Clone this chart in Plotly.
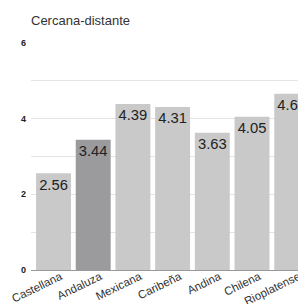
import plotly.graph_objects as go

categories = ["Castellana", "Andaluza", "Mexicana", "Caribeña", "Andina", "Chilena", "Rioplatense"]
values = [2.56, 3.44, 4.39, 4.31, 3.63, 4.05, 4.66]
bar_colors = ["#c9c9c9", "#9b9b9d", "#c9c9c9", "#c9c9c9", "#c9c9c9", "#c9c9c9", "#c9c9c9"]
y_tickvals = [0, 1, 2, 3, 4, 5, 6]
y_ticktext = ["<b>0</b>", "", "<b>2</b>", "", "<b>4</b>", "", "<b>6</b>"]

W, H = 298, 296  # page body has an 8px default margin

fig = go.Figure(go.Bar(
    x=categories, y=values,
    marker=dict(color=bar_colors, line=dict(width=0)),
    text=[f"{v:.2f}" for v in values],
    textposition="inside", insidetextanchor="end",
    textfont=dict(family="Liberation Sans, Arial", size=17.5, color="#222222"),
    textangle=0, cliponaxis=False,
))

fig.update_layout(
    width=W, height=H,
    margin=dict(l=23, r=0, t=35, b=34),
    paper_bgcolor="white", plot_bgcolor="white",
    bargap=0.12,
    showlegend=False,
    title=dict(text="Cercana-distante", x=23/W, xanchor="left", y=1-12/H, yanchor="middle",
               font=dict(family="Liberation Sans, Arial", size=13, color="#333333")),
    xaxis=dict(range=[-0.567, 6.36], tickangle=-26, showgrid=False, ticks="", automargin=False,
               ticklabelstandoff=-3, ticklabelshift=7,
               tickfont=dict(family="Liberation Sans, Arial", size=11.5, color="#333333")),
    yaxis=dict(range=[0, 6], tickvals=y_tickvals, ticktext=y_ticktext, automargin=False,
               showgrid=True, gridcolor="#e4e4e4", gridwidth=1,
               zeroline=True, zerolinecolor="#9a9a9a", zerolinewidth=1,
               ticks="", ticklabelstandoff=4,
               tickfont=dict(family="Liberation Sans, Arial", size=9, color="#222222")),
    uniformtext=dict(minsize=8, mode="show"),
)

fig.write_html("out.html")
